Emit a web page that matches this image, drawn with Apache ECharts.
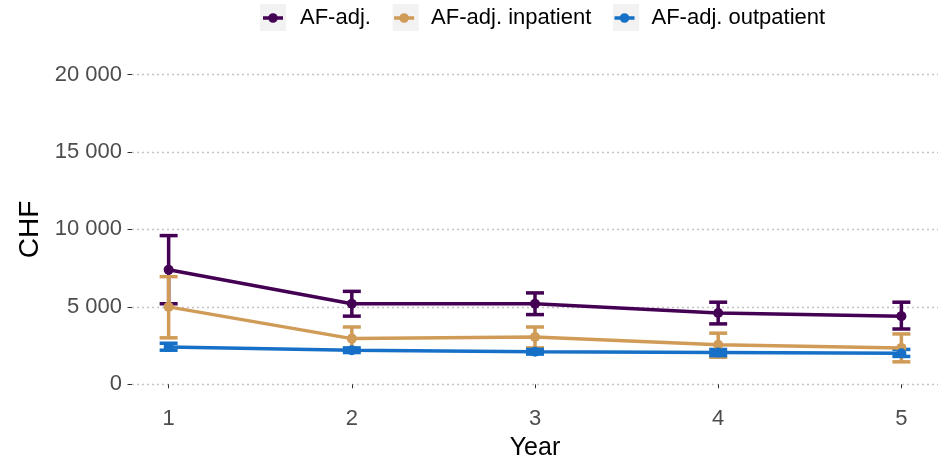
<!DOCTYPE html>
<html>
<head>
<meta charset="utf-8">
<script src="https://cdn.jsdelivr.net/npm/echarts@6/dist/echarts.min.js"></script>
<style>
html,body{margin:0;padding:0;background:#fff;}
#chart{width:940px;height:459px;}
</style>
</head>
<body>
<div id="chart"></div>
<script>
// ---- data ----
const years = [1, 2, 3, 4, 5];
const seriesNames = ['AF-adj.', 'AF-adj. inpatient', 'AF-adj. outpatient'];
const afAdj      = [7400, 5200, 5200, 4600, 4400];
const afAdjLow   = [5200, 4400, 4500, 3900, 3570];
const afAdjHigh  = [9600, 6000, 5900, 5300, 5300];
const inpat      = [5000, 2950, 3050, 2550, 2350];
const inpatLow   = [3000, 2200, 2350, 1750, 1450];
const inpatHigh  = [6950, 3700, 3700, 3300, 3250];
const outpat     = [2400, 2200, 2100, 2050, 2000];
const outpatLow  = [2200, 2050, 1950, 1850, 1800];
const outpatHigh = [2650, 2350, 2250, 2250, 2250];
const yTicks = [0, 5000, 10000, 15000, 20000];
const colors = ['#440154', '#D09B57', '#1670C7'];

const means = [afAdj, inpat, outpat];
const lows = [afAdjLow, inpatLow, outpatLow];
const highs = [afAdjHigh, inpatHigh, outpatHigh];

function fmt(v) {
  return String(v).replace(/\B(?=(\d{3})+(?!\d))/g, ' ');
}

const FONT = '"Liberation Sans", Arial, sans-serif';
const CAP = 9;

const series = [];
seriesNames.forEach(function (name, i) {
  series.push({
    name: name,
    type: 'custom',
    z: 2,
    silent: true,
    data: years.map(function (y, k) { return [y, lows[i][k], highs[i][k]]; }),
    renderItem: function (params, api) {
      const x = api.value(0);
      const lo = api.coord([x, api.value(1)]);
      const hi = api.coord([x, api.value(2)]);
      const st = { stroke: colors[i], lineWidth: 3.5, fill: null };
      return {
        type: 'group',
        children: [
          { type: 'line', shape: { x1: lo[0], y1: lo[1], x2: hi[0], y2: hi[1] }, style: st },
          { type: 'line', shape: { x1: lo[0] - CAP, y1: lo[1], x2: lo[0] + CAP, y2: lo[1] }, style: st },
          { type: 'line', shape: { x1: hi[0] - CAP, y1: hi[1], x2: hi[0] + CAP, y2: hi[1] }, style: st }
        ]
      };
    }
  });
});
seriesNames.forEach(function (name, i) {
  series.push({
    name: name,
    type: 'line',
    z: 3,
    data: years.map(function (y, k) { return [y, means[i][k]]; }),
    symbol: 'circle',
    symbolSize: 10,
    color: colors[i],
    lineStyle: { width: 3.5, color: colors[i] },
    itemStyle: { color: colors[i] },
    emphasis: { disabled: true }
  });
});

const icon = 'path://M0,3.2H20V6.8H0Z M14.8,5A4.8,4.8,0,1,1,5.2,5A4.8,4.8,0,1,1,14.8,5Z';

const chart = echarts.init(document.getElementById('chart'), null, { renderer: 'canvas' });
chart.setOption({
  animation: false,
  backgroundColor: '#ffffff',
  color: colors,
  grid: { left: 132, right: 2, top: 74.5, bottom: 74.7, containLabel: false, outerBoundsMode: 'none' },
  graphic: [
    { type: 'rect', left: 260, top: 4, shape: { width: 26, height: 27 }, style: { fill: '#F2F2F2' }, z: 0 },
    { type: 'rect', left: 392.7, top: 4, shape: { width: 26, height: 27 }, style: { fill: '#F2F2F2' }, z: 0 },
    { type: 'rect', left: 613.1, top: 4, shape: { width: 26, height: 27 }, style: { fill: '#F2F2F2' }, z: 0 }
  ],
  legend: {
    top: 1.5,
    left: 263,
    padding: 0,
    itemWidth: 20,
    itemHeight: 10,
    itemGap: 23.2,
    icon: icon,
    selectedMode: false,
    data: seriesNames,
    textStyle: { fontSize: 22, color: '#000', fontFamily: FONT, lineHeight: 26, padding: [7, 0, 0, 12] }
  },
  xAxis: {
    type: 'value',
    min: 0.8,
    max: 5.2,
    offset: 16,
    name: 'Year',
    nameLocation: 'middle',
    nameGap: 33,
    nameTextStyle: { fontSize: 25, color: '#000', fontFamily: FONT },
    axisLine: { show: false },
    axisTick: { show: true, length: 4, lineStyle: { color: '#333', width: 1 }, customValues: years },
    axisLabel: { margin: 8, fontSize: 22, color: '#4D4D4D', fontFamily: FONT, customValues: years },
    splitLine: { show: false }
  },
  yAxis: {
    type: 'value',
    min: 0,
    max: 20000,
    interval: 5000,
    name: 'CHF',
    nameLocation: 'middle',
    nameGap: 82.5,
    nameTextStyle: { fontSize: 28, color: '#000', fontFamily: FONT },
    axisLine: { show: false },
    axisTick: { show: true, length: 4.5, lineStyle: { color: '#333', width: 1 }, customValues: yTicks },
    axisLabel: { margin: 10, fontSize: 22, color: '#4D4D4D', fontFamily: FONT, customValues: yTicks, formatter: fmt },
    splitLine: { show: true, lineStyle: { color: '#C4C4C4', width: 1.3, type: [2, 3] } }
  },
  series: series
});
</script>
</body>
</html>
